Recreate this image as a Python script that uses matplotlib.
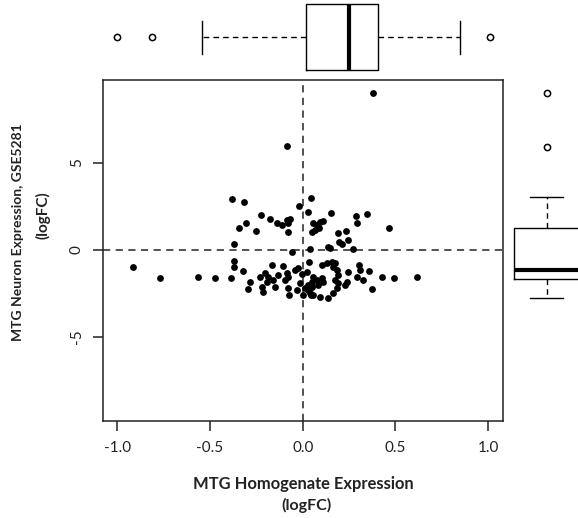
import matplotlib.pyplot as plt

# scatter values (logFC)
homog_x = [-0.380, -0.315, -0.227, -0.176, -0.308, -0.345, -0.250, -0.140, -0.113, -0.086,
           -0.078, -0.069, -0.081, -0.020, 0.043, 0.030, 0.057, 0.076, 0.093, 0.108,
           0.066, 0.049, 0.090, 0.153, 0.288, 0.295, 0.345, 0.467, 0.192, 0.234,
           0.198, 0.210, 0.246, 0.138, 0.147, 0.270, 0.039, -0.372, -0.059, 0.379,
           -0.085, -0.372, -0.372, -0.914, -0.768, -0.565, -0.475, -0.389, -0.321, -0.286,
           -0.294, -0.220, -0.214, -0.230, -0.203, -0.186, -0.167, -0.159, -0.149, -0.132,
           -0.105, -0.096, -0.078, -0.078, -0.072, -0.024, -0.005, -0.032, 0.000, 0.012,
           0.022, 0.030, 0.043, 0.036, 0.103, 0.130, 0.157, 0.174, 0.165, 0.183,
           0.305, 0.309, 0.359, 0.246, 0.327, 0.426, 0.493, 0.615, 0.376, 0.192,
           0.174, 0.192, 0.237, 0.228, 0.057, 0.076, 0.103, 0.111, 0.084, 0.049,
           0.030, 0.039, 0.057, 0.093, 0.138, 0.165, -0.015, -0.042, -0.191, -0.086,
           0.049, 0.183, 0.291]
neuron_y = [2.91, 2.74, 1.99, 1.80, 1.57, 1.25, 1.09, 1.53, 1.44, 1.72,
            1.53, 1.76, 1.03, 2.55, 3.01, 2.20, 1.57, 1.44, 1.63, 1.68,
            1.15, 1.02, 1.25, 2.13, 1.95, 1.57, 2.07, 1.28, 0.96, 1.11,
            0.48, 0.34, 0.57, 0.19, 0.10, 0.06, 0.06, 0.34, -0.13, 9.02,
            5.98, -0.63, -0.99, -0.99, -1.63, -1.53, -1.63, -1.63, -1.21, -1.82,
            -2.22, -2.14, -2.41, -1.53, -1.30, -1.53, -0.86, -1.72, -2.11, -1.44,
            -0.92, -1.72, -1.53, -2.20, -2.59, -1.05, -1.38, -2.30, -2.59, -2.20,
            -1.25, -2.01, -2.59, -0.67, -0.86, -0.73, -0.67, -0.76, -0.99, -1.15,
            -0.86, -1.15, -1.21, -1.25, -1.72, -1.53, -1.63, -1.53, -2.24, -1.44,
            -1.72, -1.91, -1.82, -2.01, -1.53, -1.72, -1.63, -1.82, -2.01, -2.11,
            -2.30, -2.49, -2.59, -2.68, -2.78, -2.49, -1.91, -1.15, -1.82, -1.34,
            -1.82, -2.20, -1.53]

# marginal boxplot summaries
homog_quartiles = [0.016, 0.251, 0.405]
homog_whiskers = [-0.543, 0.849]
homog_outliers = [-1.0, -0.813, 1.011]
neuron_quartiles = [-1.69, -1.15, 1.25]
neuron_whiskers = [-2.78, 3.03]
neuron_outliers = [5.94, 9.0]

x_ticks = [-1.0, -0.5, 0.0, 0.5, 1.0]
x_ticklabels = ['-1.0', '-0.5', '0.0', '0.5', '1.0']
y_ticks = [-5, 0, 5]
y_ticklabels = ['-5', '0', '5']

plt.rcParams['font.family'] = ['Lato', 'DejaVu Sans']

W, H = 578, 518
fig = plt.figure(figsize=(W / 100, H / 100), dpi=100)


def px_rect(left, top, width, height):
    # pixel box (top-left origin) -> figure fraction
    return [left / W, 1 - (top + height) / H, width / W, height / H]


def stats(q, w, out):
    return [dict(q1=q[0], med=q[1], q3=q[2], whislo=w[0], whishi=w[1], fliers=out)]


dash = (0, (4, 3))
box_kw = dict(boxprops=dict(color='black', lw=1),
              whiskerprops=dict(color='black', lw=1, ls=dash),
              capprops=dict(color='black', lw=1),
              medianprops=dict(color='black', lw=3),
              flierprops=dict(marker='o', mfc='none', mec='black', ms=4.5, mew=1.1),
              positions=[0], widths=1, capwidths=0.5)

# main scatter
ax = fig.add_axes(px_rect(102.7, 80, 400, 341))
ax.plot(homog_x, neuron_y, 'o', color='black', markersize=4.9, markeredgewidth=0)
ax.axhline(0, color='#444444', lw=1.3, ls=dash, zorder=0)
ax.axvline(0, color='#444444', lw=1.3, ls=dash, zorder=0)
ax.set_xlim(-1.079, 1.079)
ax.set_ylim(-9.83, 9.77)
ax.set_xticks(x_ticks)
ax.set_xticklabels(x_ticklabels)
ax.set_yticks(y_ticks)
ax.set_yticklabels(y_ticklabels, rotation=90, va='center')
ax.tick_params(axis='both', length=7.5, width=1.1, labelsize=11, colors='#222222')
ax.tick_params(axis='x', pad=7)
ax.tick_params(axis='y', pad=6)
for s in ax.spines.values():
    s.set_color('#222222')
    s.set_linewidth(1.1)

# top marginal boxplot
ax_top = fig.add_axes(px_rect(102.7, 0, 400, 76))
ax_top.bxp(stats(homog_quartiles, homog_whiskers, homog_outliers),
           orientation='horizontal', **box_kw)
ax_top.set_xlim(-1.079, 1.079)
ax_top.set_ylim(-0.586, 0.565)
ax_top.axis('off')

# right marginal boxplot
ax_right = fig.add_axes(px_rect(505, 80, 73, 341))
ax_right.bxp(stats(neuron_quartiles, neuron_whiskers, neuron_outliers),
             orientation='vertical', **box_kw)
ax_right.set_xlim(-0.636, 0.47)
ax_right.set_ylim(-9.83, 9.77)
ax_right.axis('off')

# axis titles
fig.text(303.3 / W, 1 - 484 / H, 'MTG Homogenate Expression', ha='center', va='center',
         fontsize=11.9, fontweight='bold', color='#222222')
fig.text(306.7 / W, 1 - 505 / H, '(logFC)', ha='center', va='center',
         fontsize=11.5, fontweight='bold', color='#222222')
fig.text(18 / W, 1 - 232 / H, 'MTG Neuron Expression, GSE5281', rotation=90,
         ha='center', va='center', fontsize=10, fontweight='bold', color='#222222')
fig.text(43 / W, 1 - 215 / H, '(logFC)', rotation=90, ha='center', va='center',
         fontsize=11, fontweight='bold', color='#222222')

fig.savefig('out.png', dpi=100)
